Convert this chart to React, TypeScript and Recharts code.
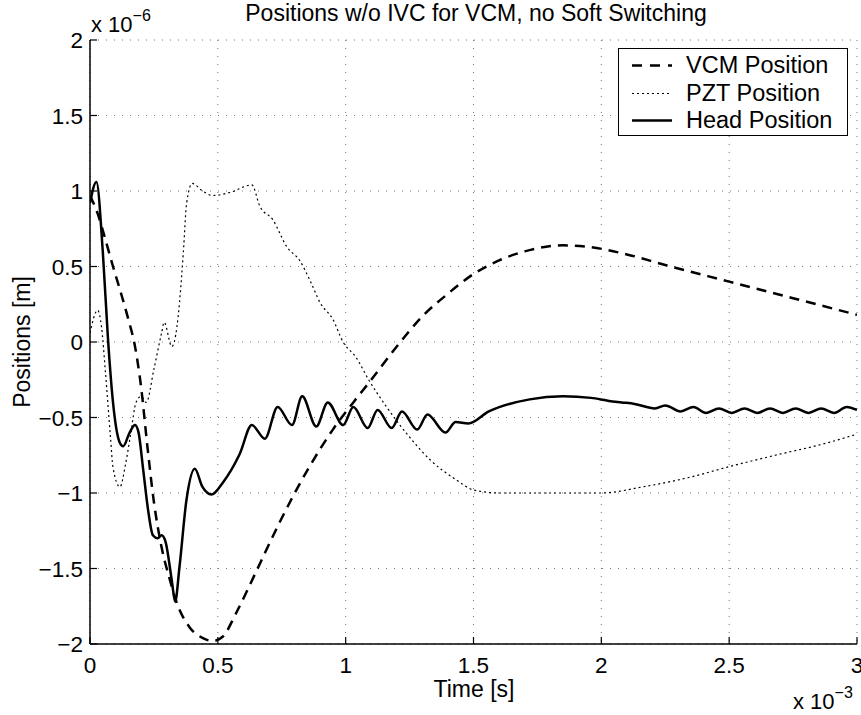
import React from 'react';
import { LineChart, Line, XAxis, YAxis, CartesianGrid, Legend } from 'recharts';

// time in ms (x 10^-3 s), position in micrometres (x 10^-6 m)
const xTicks = [0, 0.5, 1, 1.5, 2, 2.5, 3];
const yTicks = [-2, -1.5, -1, -0.5, 0, 0.5, 1, 1.5, 2];

const vcmT = [0, 0.03, 0.06, 0.09, 0.12, 0.15, 0.175, 0.2, 0.225, 0.25, 0.28, 0.31, 0.34, 0.39, 0.44, 0.48, 0.52, 0.57, 0.65, 0.74, 0.85, 0.95, 1.03, 1.1, 1.2, 1.3, 1.4, 1.5, 1.6, 1.7, 1.85, 1.95, 2.1, 2.25, 2.5, 2.75, 3.0];
const vcmY = [0.97, 0.85, 0.68, 0.5, 0.33, 0.15, -0.02, -0.3, -0.7, -1.06, -1.36, -1.56, -1.73, -1.89, -1.96, -1.98, -1.95, -1.8, -1.52, -1.2, -0.85, -0.58, -0.4, -0.25, -0.03, 0.17, 0.32, 0.45, 0.54, 0.6, 0.64, 0.63, 0.58, 0.51, 0.4, 0.29, 0.18];

const pztT = [0, 0.03, 0.045, 0.06, 0.08, 0.09, 0.117, 0.14, 0.16, 0.18, 0.2, 0.22, 0.25, 0.28, 0.29, 0.32, 0.34, 0.35, 0.365, 0.378, 0.4, 0.44, 0.48, 0.547, 0.633, 0.664, 0.715, 0.77, 0.82, 0.86, 0.9, 0.95, 0.99, 1.04, 1.09, 1.16, 1.25, 1.33, 1.43, 1.5, 1.6, 1.8, 2.0, 2.16, 2.36, 2.49, 2.68, 2.88, 3.0];
const pztY = [0.06, 0.21, 0.1, -0.19, -0.63, -0.83, -0.96, -0.8, -0.6, -0.4, -0.36, -0.4, -0.18, 0.06, 0.13, -0.03, 0.1, 0.26, 0.59, 0.92, 1.05, 1.0, 0.97, 0.99, 1.04, 0.9, 0.81, 0.63, 0.54, 0.41, 0.26, 0.15, 0.0, -0.1, -0.25, -0.43, -0.63, -0.78, -0.91, -0.98, -1.0, -1.0, -1.0, -0.96, -0.89, -0.83, -0.75, -0.67, -0.61];

const headT = [0, 0.025, 0.05, 0.07, 0.09, 0.115, 0.13, 0.155, 0.176, 0.19, 0.207, 0.227, 0.246, 0.265, 0.28, 0.295, 0.32, 0.333, 0.35, 0.377, 0.41, 0.44, 0.475, 0.52, 0.586, 0.633, 0.684, 0.734, 0.79, 0.83, 0.885, 0.93, 0.99, 1.03, 1.086, 1.125, 1.18, 1.22, 1.28, 1.32, 1.39, 1.43, 1.48, 1.56, 1.72, 1.85, 1.96, 2.03, 2.08, 2.13, 2.21, 2.25, 2.31, 2.36, 2.41, 2.46, 2.51, 2.56, 2.61, 2.66, 2.71, 2.76, 2.81, 2.86, 2.91, 2.96, 3.0];
const headY = [0.92, 1.06, 0.6, 0.03, -0.4, -0.66, -0.69, -0.6, -0.55, -0.6, -0.83, -1.11, -1.28, -1.3, -1.28, -1.32, -1.58, -1.72, -1.49, -1.05, -0.84, -0.96, -1.01, -0.93, -0.74, -0.55, -0.64, -0.43, -0.55, -0.36, -0.56, -0.4, -0.55, -0.43, -0.57, -0.45, -0.57, -0.46, -0.58, -0.48, -0.6, -0.53, -0.54, -0.46, -0.38, -0.36, -0.37, -0.39, -0.4, -0.41, -0.44, -0.42, -0.46, -0.43, -0.47, -0.44, -0.47, -0.44, -0.47, -0.44, -0.47, -0.44, -0.47, -0.44, -0.47, -0.43, -0.45];

const zip = (t: number[], y: number[]) => t.map((x, i) => ({ x, y: y[i] }));
const vcmData = zip(vcmT, vcmY);
const pztData = zip(pztT, pztY);
const headData = zip(headT, headY);

const FONT = '"Liberation Sans", Arial, Helvetica, sans-serif';
const fmt = (v: number) => (v < 0 ? '\u2212' + String(-v) : String(v));

const BottomTick = (p: any) => (
  <g>
    <line x1={p.x} y1={p.y} x2={p.x} y2={p.y - 7} stroke="#000" strokeWidth={1.2} />
    <text x={p.x} y={p.y + 29} textAnchor="middle" fontSize={22.5} fontFamily={FONT} fill="#000">
      {fmt(p.payload.value)}
    </text>
  </g>
);
const LeftTick = (p: any) => (
  <g>
    <line x1={p.x} y1={p.y} x2={p.x + 7} y2={p.y} stroke="#000" strokeWidth={1.2} />
    <text x={p.x - 7} y={p.y + 8} textAnchor="end" fontSize={22.5} fontFamily={FONT} fill="#000">
      {fmt(p.payload.value)}
    </text>
  </g>
);
const TopTick = (p: any) => (
  <line x1={p.x} y1={p.y} x2={p.x} y2={p.y + 7} stroke="#000" strokeWidth={1.2} />
);
const RightTick = (p: any) => (
  <line x1={p.x} y1={p.y} x2={p.x - 7} y2={p.y} stroke="#000" strokeWidth={1.2} />
);

const legendItems = [
  { name: 'VCM Position', dash: '10 8', w: 2.5, c: '#000' },
  { name: 'PZT Position', dash: '2 3', w: 1.2, c: '#000' },
  { name: 'Head Position', dash: undefined, w: 2.5, c: '#000' },
];

const LegendBox = () => (
  <div
    style={{
      width: 228,
      height: 86,
      border: '1px solid #000',
      background: '#fff',
      fontFamily: FONT,
      fontSize: 23.5,
      boxSizing: 'content-box',
    }}
  >
    {legendItems.map((it, i) => (
      <div key={it.name} style={{ position: 'absolute', left: 0, top: 4 + i * 27.5, height: 27, display: 'flex', alignItems: 'center' }}>
        <svg width={68} height={27} style={{ display: 'block' }}>
          <line x1={14} y1={13.5} x2={54} y2={13.5} stroke={it.c} strokeWidth={it.w} strokeDasharray={it.dash} />
        </svg>
        <span style={{ lineHeight: '27px', whiteSpace: 'nowrap' }}>{it.name}</span>
      </div>
    ))}
  </div>
);

export default function App() {
  return (
    <div style={{ position: 'absolute', left: 0, top: 0, width: 861, height: 715, background: '#fff' }}>
      <LineChart width={861} height={715} margin={{ top: 40, right: 4, bottom: 41, left: 30 }}>
        <CartesianGrid stroke="#777" strokeDasharray="1 7" strokeWidth={1} />
        <XAxis
          xAxisId={0}
          dataKey="x"
          type="number"
          domain={[0, 3]}
          ticks={xTicks}
          interval={0}
          height={30}
          tickSize={0}
          tickMargin={0}
          tickLine={false}
          axisLine={{ stroke: '#000', strokeWidth: 1.5 }}
          tick={<BottomTick />}
          allowDataOverflow
        />
        <XAxis
          xAxisId="top"
          orientation="top"
          dataKey="x"
          type="number"
          domain={[0, 3]}
          ticks={xTicks}
          interval={0}
          height={0}
          tickSize={0}
          tickMargin={0}
          tickLine={false}
          axisLine={{ stroke: '#000', strokeWidth: 1.5 }}
          tick={<TopTick />}
        />
        <YAxis
          yAxisId={0}
          type="number"
          domain={[-2, 2]}
          ticks={yTicks}
          interval={0}
          width={60}
          tickSize={0}
          tickMargin={0}
          tickLine={false}
          axisLine={{ stroke: '#000', strokeWidth: 1.5 }}
          tick={<LeftTick />}
          allowDataOverflow
        />
        <YAxis
          yAxisId="right"
          orientation="right"
          type="number"
          domain={[-2, 2]}
          ticks={yTicks}
          interval={0}
          width={0}
          tickSize={0}
          tickMargin={0}
          tickLine={false}
          axisLine={{ stroke: '#000', strokeWidth: 1.5 }}
          tick={<RightTick />}
        />
        <Line
          data={vcmData}
          dataKey="y"
          name="VCM Position"
          type="monotone"
          stroke="#000"
          strokeWidth={2.5}
          strokeDasharray="10 7"
          dot={false}
          activeDot={false}
          isAnimationActive={false}
        />
        <Line
          data={pztData}
          dataKey="y"
          name="PZT Position"
          type="monotone"
          stroke="#000"
          strokeWidth={1.2}
          strokeDasharray="2 3"
          dot={false}
          activeDot={false}
          isAnimationActive={false}
        />
        <Line
          data={headData}
          dataKey="y"
          name="Head Position"
          type="monotone"
          stroke="#000"
          strokeWidth={2.5}
          dot={false}
          activeDot={false}
          isAnimationActive={false}
        />
        <Legend
          layout="horizontal"
          align="center"
          verticalAlign="middle"
          content={() => <LegendBox />}
          wrapperStyle={{ left: 618, top: 48, width: 230, height: 88 }}
        />
      </LineChart>
      <svg width={861} height={715} style={{ position: 'absolute', left: 0, top: 0, pointerEvents: 'none' }}>
        <text x={476} y={21} textAnchor="middle" fontSize={23} fontFamily={FONT} fill="#000">
          Positions w/o IVC for VCM, no Soft Switching
        </text>
        <text x={474} y={697} textAnchor="middle" fontSize={23} fontFamily={FONT} fill="#000">
          Time [s]
        </text>
        <text x={30} y={342} textAnchor="middle" fontSize={23} fontFamily={FONT} fill="#000" transform="rotate(-90 30 342)">
          Positions [m]
        </text>
        <text x={91} y={32} fontSize={22} fontFamily={FONT} fill="#000">
          x 10
          <tspan dy={-11} fontSize={16}>{'\u2212'}6</tspan>
        </text>
        <text x={793} y={709} fontSize={22} fontFamily={FONT} fill="#000">
          x 10
          <tspan dy={-11} fontSize={16}>{'\u2212'}3</tspan>
        </text>
      </svg>
    </div>
  );
}
